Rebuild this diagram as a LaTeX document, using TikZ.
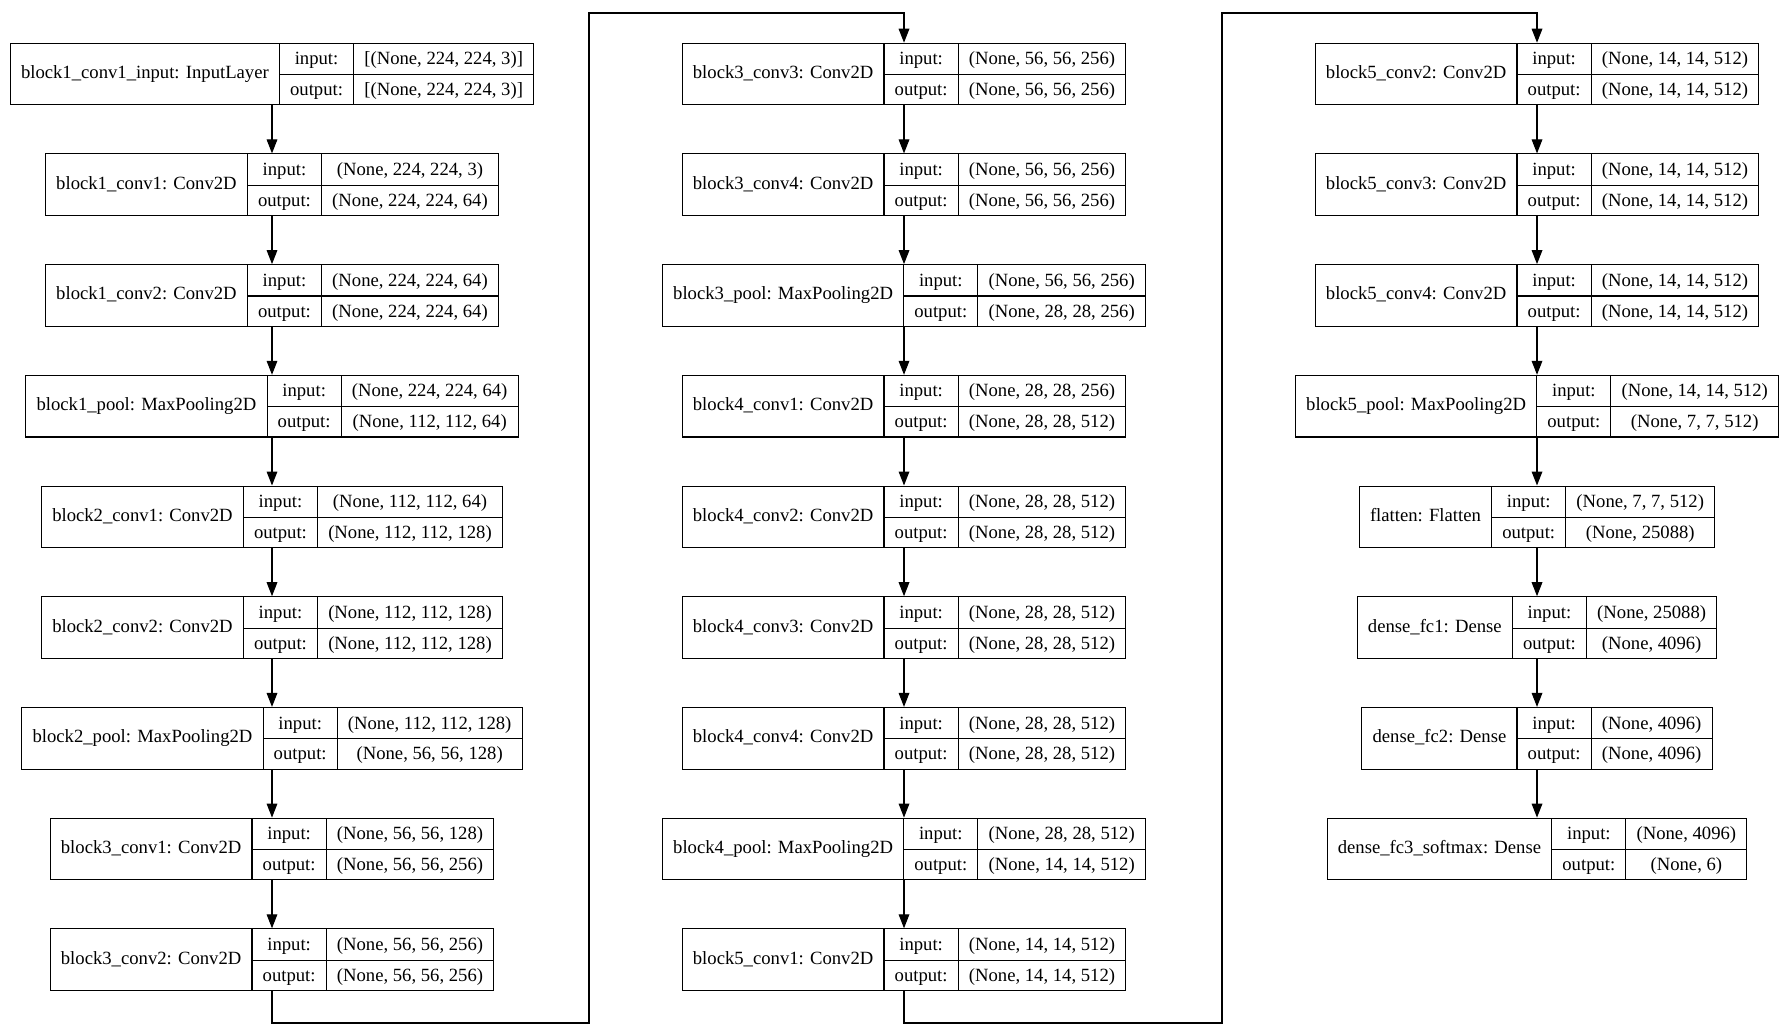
\documentclass[tikz,border=0pt]{standalone}
\usepackage{fontspec}
\setmainfont{Liberation Serif}
\usepackage{multirow}
\usetikzlibrary{arrows.meta}
\renewcommand{\arraystretch}{1.36}
\setlength{\tabcolsep}{8pt}
\setlength{\arrayrulewidth}{0.8pt}

\begin{document}
\begin{tikzpicture}[x=0.75pt,y=-0.75pt,
    layer/.style={draw,line width=0.8pt,inner sep=0pt,anchor=north,font=\fontsize{14}{17}\selectfont},
    link/.style={line width=0.85pt,-{Triangle[length=10.5pt,width=8pt]}}]
            \useasboundingbox (0,0) rectangle (1784,1034);

            \foreach \n/\x/\i/\lab/\inp/\outp in {
                in1/272/0/{block1\_conv1\_input: InputLayer}/{[(None, 224, 224, 3)]}/{[(None, 224, 224, 3)]},
                b1c1/272/1/{block1\_conv1: Conv2D}/{(None, 224, 224, 3)}/{(None, 224, 224, 64)},
                b1c2/272/2/{block1\_conv2: Conv2D}/{(None, 224, 224, 64)}/{(None, 224, 224, 64)},
                b1p/272/3/{block1\_pool: MaxPooling2D}/{(None, 224, 224, 64)}/{(None, 112, 112, 64)},
                b2c1/272/4/{block2\_conv1: Conv2D}/{(None, 112, 112, 64)}/{(None, 112, 112, 128)},
                b2c2/272/5/{block2\_conv2: Conv2D}/{(None, 112, 112, 128)}/{(None, 112, 112, 128)},
                b2p/272/6/{block2\_pool: MaxPooling2D}/{(None, 112, 112, 128)}/{(None, 56, 56, 128)},
                b3c1/272/7/{block3\_conv1: Conv2D}/{(None, 56, 56, 128)}/{(None, 56, 56, 256)},
                b3c2/272/8/{block3\_conv2: Conv2D}/{(None, 56, 56, 256)}/{(None, 56, 56, 256)},
                b3c3/904/0/{block3\_conv3: Conv2D}/{(None, 56, 56, 256)}/{(None, 56, 56, 256)},
                b3c4/904/1/{block3\_conv4: Conv2D}/{(None, 56, 56, 256)}/{(None, 56, 56, 256)},
                b3p/904/2/{block3\_pool: MaxPooling2D}/{(None, 56, 56, 256)}/{(None, 28, 28, 256)},
                b4c1/904/3/{block4\_conv1: Conv2D}/{(None, 28, 28, 256)}/{(None, 28, 28, 512)},
                b4c2/904/4/{block4\_conv2: Conv2D}/{(None, 28, 28, 512)}/{(None, 28, 28, 512)},
                b4c3/904/5/{block4\_conv3: Conv2D}/{(None, 28, 28, 512)}/{(None, 28, 28, 512)},
                b4c4/904/6/{block4\_conv4: Conv2D}/{(None, 28, 28, 512)}/{(None, 28, 28, 512)},
                b4p/904/7/{block4\_pool: MaxPooling2D}/{(None, 28, 28, 512)}/{(None, 14, 14, 512)},
                b5c1/904/8/{block5\_conv1: Conv2D}/{(None, 14, 14, 512)}/{(None, 14, 14, 512)},
                b5c2/1537/0/{block5\_conv2: Conv2D}/{(None, 14, 14, 512)}/{(None, 14, 14, 512)},
                b5c3/1537/1/{block5\_conv3: Conv2D}/{(None, 14, 14, 512)}/{(None, 14, 14, 512)},
                b5c4/1537/2/{block5\_conv4: Conv2D}/{(None, 14, 14, 512)}/{(None, 14, 14, 512)},
                b5p/1537/3/{block5\_pool: MaxPooling2D}/{(None, 14, 14, 512)}/{(None, 7, 7, 512)},
                flat/1537/4/{flatten: Flatten}/{(None, 7, 7, 512)}/{(None, 25088)},
                fc1/1537/5/{dense\_fc1: Dense}/{(None, 25088)}/{(None, 4096)},
                fc2/1537/6/{dense\_fc2: Dense}/{(None, 4096)}/{(None, 4096)},
                fc3/1537/7/{dense\_fc3\_softmax: Dense}/{(None, 4096)}/{(None, 6)}}
              \node[layer] (\n) at (\x,{42.7+110.7*\i})
                {\begin{tabular}{c|c|c}
                  \multirow{2}{*}{\lab} & input: & \inp \\ \cline{2-3}
                  & output: & \outp
                \end{tabular}};

            \foreach \a/\b in {in1/b1c1, b1c1/b1c2, b1c2/b1p, b1p/b2c1, b2c1/b2c2, b2c2/b2p,
                b2p/b3c1, b3c1/b3c2, b3c3/b3c4, b3c4/b3p, b3p/b4c1, b4c1/b4c2, b4c2/b4c3,
                b4c3/b4c4, b4c4/b4p, b4p/b5c1, b5c2/b5c3, b5c3/b5c4, b5c4/b5p, b5p/flat,
                flat/fc1, fc1/fc2, fc2/fc3}
              \draw[link] (\a) -- (\b);

            \coordinate (low1) at (589,1023);
            \coordinate (high1) at (589,13);
            \coordinate (low2) at (1222,1023);
            \coordinate (high2) at (1222,13);

            \draw[link] (b3c2.south) |- (low1) -- (high1) -| (b3c3.north);
            \draw[link] (b5c1.south) |- (low2) -- (high2) -| (b5c2.north);
          \end{tikzpicture}
\end{document}
